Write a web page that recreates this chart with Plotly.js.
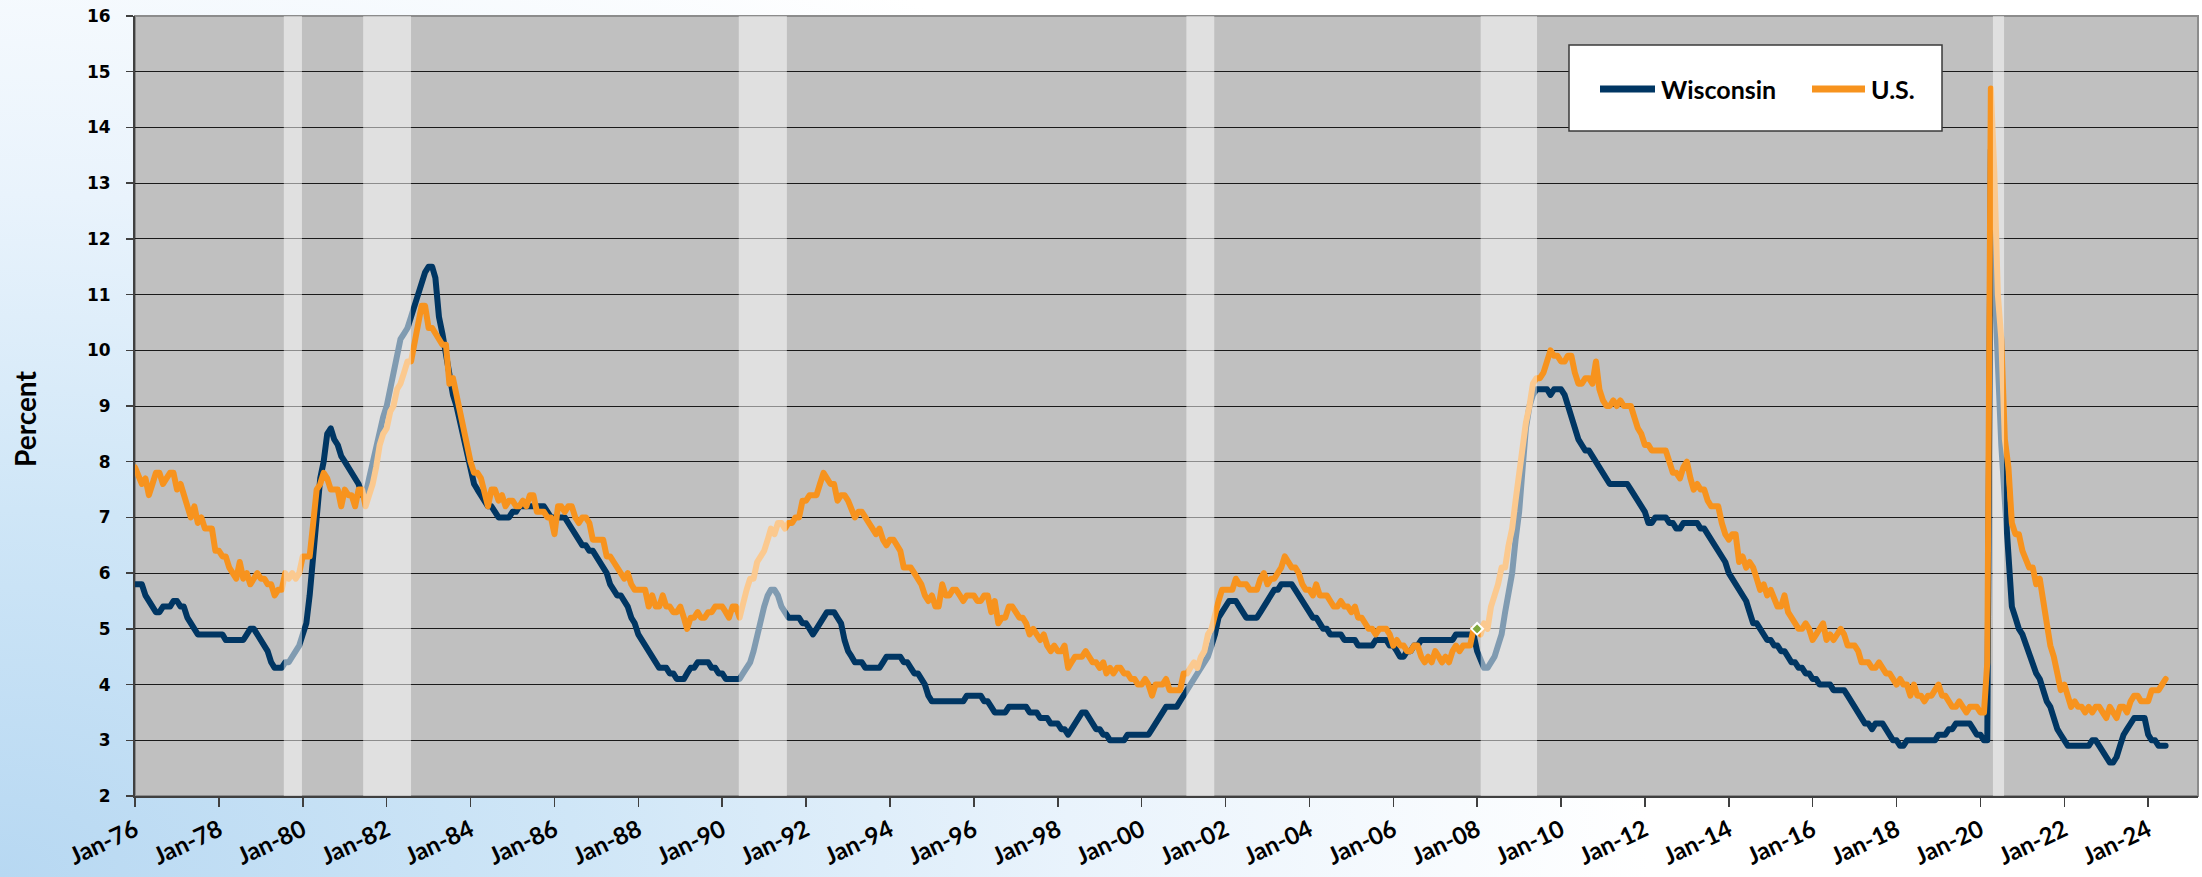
<!DOCTYPE html>
<html><head><meta charset="utf-8">
<script src="https://cdn.plot.ly/plotly-3.0.1.min.js"></script>
<style>
html,body{margin:0;padding:0;}
body{width:2202px;height:877px;overflow:hidden;
background:radial-gradient(ellipse 1650px 1050px at 0% 100%, #b7d8f2 0%, #cfe6f7 35%, #e9f3fc 65%, #ffffff 100%);}
#chart{width:2202px;height:877px;}
path.js-line{stroke-linejoin:round;stroke-linecap:round;}
</style></head><body><div id="chart"></div><script>
// ---------- DATA ----------
const seriesStart = [1976, 1]; // first month of both series (Jan-76), monthly observations
const wisconsinRate = [
 5.8,5.8,5.8,5.6,5.5,5.4,5.3,5.3,5.4,5.4,5.4,5.5,      // 1976
 5.5,5.4,5.4,5.2,5.1,5.0,4.9,4.9,4.9,4.9,4.9,4.9,      // 1977
 4.9,4.9,4.8,4.8,4.8,4.8,4.8,4.8,4.9,5.0,5.0,4.9,      // 1978
 4.8,4.7,4.6,4.4,4.3,4.3,4.3,4.4,4.4,4.5,4.6,4.7,      // 1979
 4.9,5.1,5.6,6.3,7.1,7.7,8.0,8.5,8.6,8.4,8.3,8.1,      // 1980
 8.0,7.9,7.8,7.7,7.6,7.4,7.4,7.7,8.0,8.3,8.5,8.8,      // 1981
 9.0,9.3,9.6,9.9,10.2,10.3,10.4,10.6,10.8,11.0,11.2,11.4, // 1982
 11.5,11.5,11.3,10.6,10.3,9.9,9.5,9.2,9.0,8.7,8.4,8.1, // 1983
 7.8,7.6,7.5,7.4,7.3,7.2,7.2,7.1,7.0,7.0,7.0,7.0,      // 1984
 7.1,7.1,7.2,7.2,7.2,7.2,7.2,7.2,7.2,7.2,7.1,7.0,      // 1985
 7.0,7.0,7.0,7.0,6.9,6.8,6.7,6.6,6.5,6.5,6.4,6.4,      // 1986
 6.3,6.2,6.1,6.0,5.8,5.7,5.6,5.6,5.5,5.4,5.2,5.1,      // 1987
 4.9,4.8,4.7,4.6,4.5,4.4,4.3,4.3,4.3,4.2,4.2,4.1,      // 1988
 4.1,4.1,4.2,4.3,4.3,4.4,4.4,4.4,4.4,4.3,4.3,4.2,      // 1989
 4.2,4.1,4.1,4.1,4.1,4.1,4.2,4.3,4.4,4.6,4.9,5.1,      // 1990
 5.4,5.6,5.7,5.7,5.6,5.4,5.3,5.2,5.2,5.2,5.2,5.1,      // 1991
 5.1,5.0,4.9,5.0,5.1,5.2,5.3,5.3,5.3,5.2,5.1,4.8,      // 1992
 4.6,4.5,4.4,4.4,4.4,4.3,4.3,4.3,4.3,4.3,4.4,4.5,      // 1993
 4.5,4.5,4.5,4.5,4.4,4.4,4.3,4.2,4.2,4.1,4.0,3.8,      // 1994
 3.7,3.7,3.7,3.7,3.7,3.7,3.7,3.7,3.7,3.7,3.8,3.8,      // 1995
 3.8,3.8,3.8,3.7,3.7,3.6,3.5,3.5,3.5,3.5,3.6,3.6,      // 1996
 3.6,3.6,3.6,3.6,3.5,3.5,3.5,3.4,3.4,3.4,3.3,3.3,      // 1997
 3.3,3.2,3.2,3.1,3.2,3.3,3.4,3.5,3.5,3.4,3.3,3.2,      // 1998
 3.2,3.1,3.1,3.0,3.0,3.0,3.0,3.0,3.1,3.1,3.1,3.1,      // 1999
 3.1,3.1,3.1,3.2,3.3,3.4,3.5,3.6,3.6,3.6,3.6,3.7,      // 2000
 3.8,3.9,4.0,4.1,4.2,4.3,4.4,4.5,4.7,4.9,5.2,5.3,      // 2001
 5.4,5.5,5.5,5.5,5.4,5.3,5.2,5.2,5.2,5.2,5.3,5.4,      // 2002
 5.5,5.6,5.7,5.7,5.8,5.8,5.8,5.8,5.7,5.6,5.5,5.4,      // 2003
 5.3,5.2,5.2,5.1,5.0,5.0,4.9,4.9,4.9,4.9,4.8,4.8,      // 2004
 4.8,4.8,4.7,4.7,4.7,4.7,4.7,4.8,4.8,4.8,4.8,4.7,      // 2005
 4.7,4.6,4.5,4.5,4.6,4.6,4.7,4.7,4.8,4.8,4.8,4.8,      // 2006
 4.8,4.8,4.8,4.8,4.8,4.8,4.9,4.9,4.9,4.9,4.9,4.9,      // 2007
 4.6,4.4,4.3,4.3,4.4,4.5,4.7,4.9,5.3,5.6,6.0,6.6,      // 2008
 7.1,7.9,8.6,9.0,9.2,9.3,9.3,9.3,9.3,9.2,9.3,9.3,      // 2009
 9.3,9.2,9.0,8.8,8.6,8.4,8.3,8.2,8.2,8.1,8.0,7.9,      // 2010
 7.8,7.7,7.6,7.6,7.6,7.6,7.6,7.6,7.5,7.4,7.3,7.2,      // 2011
 7.1,6.9,6.9,7.0,7.0,7.0,7.0,6.9,6.9,6.8,6.8,6.9,      // 2012
 6.9,6.9,6.9,6.9,6.8,6.8,6.7,6.6,6.5,6.4,6.3,6.2,      // 2013
 6.0,5.9,5.8,5.7,5.6,5.5,5.3,5.1,5.1,5.0,4.9,4.8,      // 2014
 4.8,4.7,4.7,4.6,4.6,4.5,4.4,4.4,4.3,4.3,4.2,4.2,      // 2015
 4.1,4.1,4.0,4.0,4.0,4.0,3.9,3.9,3.9,3.9,3.8,3.7,      // 2016
 3.6,3.5,3.4,3.3,3.3,3.2,3.3,3.3,3.3,3.2,3.1,3.0,      // 2017
 3.0,2.9,2.9,3.0,3.0,3.0,3.0,3.0,3.0,3.0,3.0,3.0,      // 2018
 3.1,3.1,3.1,3.2,3.2,3.3,3.3,3.3,3.3,3.3,3.2,3.1,      // 2019
 3.1,3.0,3.0,13.6,11.3,9.5,8.3,7.3,6.2,5.4,5.2,5.0,    // 2020
 4.9,4.7,4.6,4.4,4.2,4.1,3.9,3.7,3.6,3.4,3.2,3.1,      // 2021
 3.0,2.9,2.9,2.9,2.9,2.9,2.9,2.9,3.0,3.0,2.9,2.8,      // 2022
 2.7,2.6,2.6,2.7,2.9,3.1,3.2,3.3,3.4,3.4,3.4,3.4,      // 2023
 3.1,3.0,3.0,2.9,2.9,2.9                               // 2024
];
const usRate = [
 7.9,7.7,7.6,7.7,7.4,7.6,7.8,7.8,7.6,7.7,7.8,7.8,      // 1976
 7.5,7.6,7.4,7.2,7.0,7.2,6.9,7.0,6.8,6.8,6.8,6.4,      // 1977
 6.4,6.3,6.3,6.1,6.0,5.9,6.2,5.9,6.0,5.8,5.9,6.0,      // 1978
 5.9,5.9,5.8,5.8,5.6,5.7,5.7,6.0,5.9,6.0,5.9,6.0,      // 1979
 6.3,6.3,6.3,6.9,7.5,7.6,7.8,7.7,7.5,7.5,7.5,7.2,      // 1980
 7.5,7.4,7.4,7.2,7.5,7.5,7.2,7.4,7.6,7.9,8.3,8.5,      // 1981
 8.6,8.9,9.0,9.3,9.4,9.6,9.8,9.8,10.1,10.4,10.8,10.8,  // 1982
 10.4,10.4,10.3,10.2,10.1,10.1,9.4,9.5,9.2,8.8,8.5,8.3, // 1983
 8.0,7.8,7.8,7.7,7.4,7.2,7.5,7.5,7.3,7.4,7.2,7.3,      // 1984
 7.3,7.2,7.2,7.3,7.2,7.4,7.4,7.1,7.1,7.1,7.0,7.0,      // 1985
 6.7,7.2,7.2,7.1,7.2,7.2,7.0,6.9,7.0,7.0,6.9,6.6,      // 1986
 6.6,6.6,6.6,6.3,6.3,6.2,6.1,6.0,5.9,6.0,5.8,5.7,      // 1987
 5.7,5.7,5.7,5.4,5.6,5.4,5.4,5.6,5.4,5.4,5.3,5.3,      // 1988
 5.4,5.2,5.0,5.2,5.2,5.3,5.2,5.2,5.3,5.3,5.4,5.4,      // 1989
 5.4,5.3,5.2,5.4,5.4,5.2,5.5,5.7,5.9,5.9,6.2,6.3,      // 1990
 6.4,6.6,6.8,6.7,6.9,6.9,6.8,6.9,6.9,7.0,7.0,7.3,      // 1991
 7.3,7.4,7.4,7.4,7.6,7.8,7.7,7.6,7.6,7.3,7.4,7.4,      // 1992
 7.3,7.1,7.0,7.1,7.1,7.0,6.9,6.8,6.7,6.8,6.6,6.5,      // 1993
 6.6,6.6,6.5,6.4,6.1,6.1,6.1,6.0,5.9,5.8,5.6,5.5,      // 1994
 5.6,5.4,5.4,5.8,5.6,5.6,5.7,5.7,5.6,5.5,5.6,5.6,      // 1995
 5.6,5.5,5.5,5.6,5.6,5.3,5.5,5.1,5.2,5.2,5.4,5.4,      // 1996
 5.3,5.2,5.2,5.1,4.9,5.0,4.9,4.8,4.9,4.7,4.6,4.7,      // 1997
 4.6,4.6,4.7,4.3,4.4,4.5,4.5,4.5,4.6,4.5,4.4,4.4,      // 1998
 4.3,4.4,4.2,4.3,4.2,4.3,4.3,4.2,4.2,4.1,4.1,4.0,      // 1999
 4.0,4.1,4.0,3.8,4.0,4.0,4.0,4.1,3.9,3.9,3.9,3.9,      // 2000
 4.2,4.2,4.3,4.4,4.3,4.5,4.6,4.9,5.0,5.3,5.5,5.7,      // 2001
 5.7,5.7,5.7,5.9,5.8,5.8,5.8,5.7,5.7,5.7,5.9,6.0,      // 2002
 5.8,5.9,5.9,6.0,6.1,6.3,6.2,6.1,6.1,6.0,5.8,5.7,      // 2003
 5.7,5.6,5.8,5.6,5.6,5.6,5.5,5.4,5.4,5.5,5.4,5.4,      // 2004
 5.3,5.4,5.2,5.2,5.1,5.0,5.0,4.9,5.0,5.0,5.0,4.9,      // 2005
 4.7,4.8,4.7,4.7,4.6,4.6,4.7,4.7,4.5,4.4,4.5,4.4,      // 2006
 4.6,4.5,4.4,4.5,4.4,4.6,4.7,4.6,4.7,4.7,4.7,5.0,      // 2007
 5.0,4.9,5.1,5.0,5.4,5.6,5.8,6.1,6.1,6.5,6.8,7.3,      // 2008
 7.8,8.3,8.7,9.0,9.4,9.5,9.5,9.6,9.8,10.0,9.9,9.9,     // 2009
 9.8,9.8,9.9,9.9,9.6,9.4,9.4,9.5,9.5,9.4,9.8,9.3,      // 2010
 9.1,9.0,9.0,9.1,9.0,9.1,9.0,9.0,9.0,8.8,8.6,8.5,      // 2011
 8.3,8.3,8.2,8.2,8.2,8.2,8.2,8.0,7.8,7.8,7.7,7.9,      // 2012
 8.0,7.7,7.5,7.6,7.5,7.5,7.3,7.2,7.2,7.2,6.9,6.7,      // 2013
 6.6,6.7,6.7,6.2,6.3,6.1,6.2,6.1,5.9,5.7,5.8,5.6,      // 2014
 5.7,5.5,5.4,5.4,5.6,5.3,5.2,5.1,5.0,5.0,5.1,5.0,      // 2015
 4.8,4.9,5.0,5.1,4.8,4.9,4.8,4.9,5.0,4.9,4.7,4.7,      // 2016
 4.7,4.6,4.4,4.4,4.4,4.3,4.3,4.4,4.3,4.2,4.2,4.1,      // 2017
 4.0,4.1,4.0,4.0,3.8,4.0,3.8,3.8,3.7,3.8,3.8,3.9,      // 2018
 4.0,3.8,3.8,3.7,3.6,3.6,3.7,3.6,3.5,3.6,3.6,3.6,      // 2019
 3.5,3.5,4.4,14.7,13.2,11.0,10.2,8.4,7.9,6.9,6.7,6.7,  // 2020
 6.4,6.2,6.1,6.1,5.8,5.9,5.4,5.1,4.7,4.5,4.2,3.9,      // 2021
 4.0,3.8,3.6,3.7,3.6,3.6,3.5,3.6,3.5,3.6,3.6,3.5,      // 2022
 3.4,3.6,3.5,3.4,3.6,3.6,3.5,3.7,3.8,3.8,3.7,3.7,      // 2023
 3.7,3.9,3.9,3.9,4.0,4.1                               // 2024
];
const seriesNames = ['Wisconsin', 'U.S.'];
// Recession shading as drawn in the source chart (start, end)
const recessionStart = ['1979-07-20', '1981-06-10', '1990-05-25', '2001-01-25', '2008-02-01', '2020-04-19'];
const recessionEnd   = ['1979-12-25', '1982-08-01', '1991-07-18', '2001-09-25', '2009-06-06', '2020-07-25'];
const markedDate = '2008-01-01'; // single highlighted data point on the U.S. series

// ---------- BUILD ----------
function monthList(n) {
  const out = [];
  for (let i = 0; i < n; i++) {
    const y = seriesStart[0] + Math.floor((seriesStart[1] - 1 + i) / 12);
    const m = (seriesStart[1] - 1 + i) % 12 + 1;
    out.push(y + '-' + String(m).padStart(2, '0') + '-01');
  }
  return out;
}
const datesWI = monthList(wisconsinRate.length);
const datesUS = monthList(usRate.length);
const markIdx = datesUS.indexOf(markedDate);

const BLUE = '#003663', ORANGE = '#f7931e';
const FONT_CAL = 'Lato, "Open Sans", sans-serif';

const traces = [
  {x: datesWI, y: wisconsinRate, name: seriesNames[0], type: 'scatter', mode: 'lines',
   line: {color: BLUE, width: 6}, showlegend: false, hoverinfo: 'x+y'},
  {x: datesUS, y: usRate, name: seriesNames[1], type: 'scatter', mode: 'lines',
   line: {color: ORANGE, width: 6}, showlegend: false, hoverinfo: 'x+y'},
  {x: [datesUS[markIdx]], y: [usRate[markIdx]], type: 'scatter', mode: 'markers',
   marker: {symbol: 'diamond', size: 9, color: '#7fa83c', line: {color: '#ffffff', width: 2}},
   showlegend: false, hoverinfo: 'skip'}
];

// pixel helpers for layout decorations (plot area 135..2198 x 16..796)
const PL = 135, PT = 16, PW = 2063, PH = 780;
const px = v => (v - PL) / PW;
const py = v => (PT + PH - v) / PH;

const shapes = [];
shapes.push({type: 'rect', xref: 'paper', yref: 'paper', x0: 0, x1: 1, y0: 0, y1: 1,
  line: {color: '#8c8c8c', width: 2}, fillcolor: 'rgba(0,0,0,0)', layer: 'below'});
for (let i = 0; i < recessionStart.length; i++) {
  shapes.push({type: 'rect', xref: 'x', yref: 'paper', x0: recessionStart[i], x1: recessionEnd[i],
    y0: 0, y1: 1, fillcolor: 'rgba(255,255,255,0.5)', line: {width: 0}, layer: 'above'});
}
// legend box
shapes.push({type: 'rect', xref: 'paper', yref: 'paper', x0: px(1569), x1: px(1942), y0: py(131), y1: py(45),
  fillcolor: '#ffffff', line: {color: '#3a3a3a', width: 1.5}, layer: 'above'});
shapes.push({type: 'line', xref: 'paper', yref: 'paper', x0: px(1600), x1: px(1655), y0: py(89), y1: py(89),
  line: {color: BLUE, width: 7}, layer: 'above'});
shapes.push({type: 'line', xref: 'paper', yref: 'paper', x0: px(1812), x1: px(1865), y0: py(89), y1: py(89),
  line: {color: ORANGE, width: 7}, layer: 'above'});

const annotations = [
  {xref: 'paper', yref: 'paper', x: px(1659), y: py(89), xanchor: 'left', yanchor: 'middle',
   text: seriesNames[0], showarrow: false, font: {family: FONT_CAL, size: 25, color: '#000', weight: 'bold'}},
  {xref: 'paper', yref: 'paper', x: px(1869), y: py(89), xanchor: 'left', yanchor: 'middle',
   text: seriesNames[1], showarrow: false, font: {family: FONT_CAL, size: 25, color: '#000', weight: 'bold'}},
  {xref: 'paper', yref: 'paper', x: px(25), y: py(419), xanchor: 'center', yanchor: 'middle',
   text: 'Percent', textangle: -90, showarrow: false, font: {family: FONT_CAL, size: 28, color: '#000', weight: 'bold'}}
];

const layout = {
  width: 2202, height: 877,
  margin: {l: 135, r: 4, t: 16, b: 81, pad: 0},
  paper_bgcolor: 'rgba(0,0,0,0)',
  plot_bgcolor: '#c0c0c0',
  showlegend: false,
  xaxis: {
    type: 'date', range: ['1976-01-01', '2025-03-10'],
    tick0: '1976-01-01', dtick: 'M24', tickformat: '%b-%y',
    ticks: 'outside', ticklen: 9, tickwidth: 1.5, tickcolor: '#404040',
    tickangle: -25,
    tickfont: {family: FONT_CAL, size: 24, color: '#000', weight: 'bold'},
    showgrid: false, zeroline: false,
    showline: true, linecolor: '#404040', linewidth: 2
  },
  yaxis: {
    range: [2, 16], tick0: 2, dtick: 1,
    ticks: 'outside', ticklen: 7, tickwidth: 1.5, tickcolor: '#404040',
    tickfont: {family: '"DejaVu Sans", Verdana, sans-serif', size: 17, color: '#000', weight: 'bold'},
    ticklabelstandoff: 12,
    showgrid: true, gridcolor: '#1a1a1a', gridwidth: 1,
    zeroline: false, showline: true, linecolor: '#404040', linewidth: 2
  },
  shapes: shapes,
  annotations: annotations
};

Plotly.newPlot('chart', traces, layout, {staticPlot: true, displayModeBar: false});
</script></body></html>
